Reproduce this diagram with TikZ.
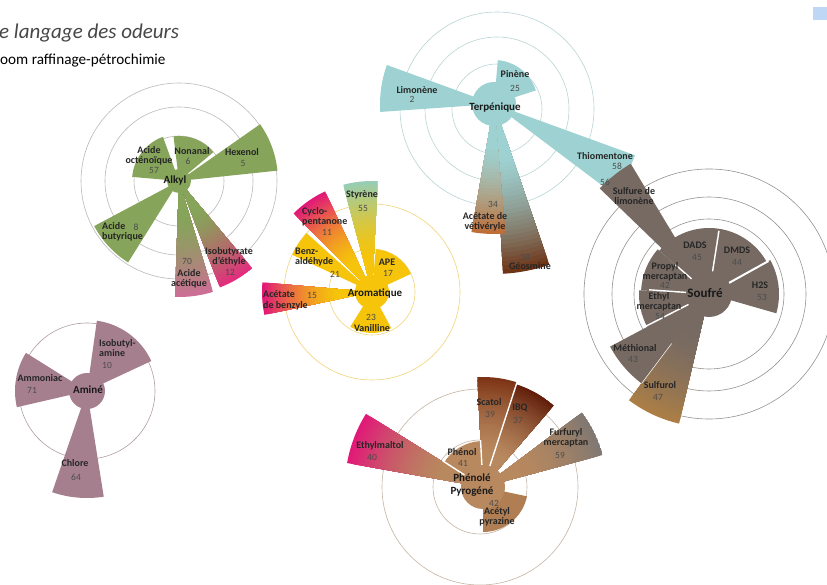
\documentclass[tikz,border=0pt]{standalone}
\usepackage{fontspec}
\setmainfont{Carlito}
\usepackage{xcolor}
\usepackage{tikz}
\definecolor{titlegray}{RGB}{70,70,70}
\definecolor{alkyl}{RGB}{134,164,90}
\definecolor{alkylring}{RGB}{185,185,185}
\definecolor{mauvepink}{RGB}{205,110,150}
\definecolor{isopink}{RGB}{228,45,125}
\definecolor{odmagenta}{RGB}{225,25,120}
\definecolor{aroyellow}{RGB}{246,196,10}
\definecolor{aroring}{RGB}{240,212,120}
\definecolor{styrgreen}{RGB}{150,205,180}
\definecolor{terpteal}{RGB}{158,210,210}
\definecolor{terpring}{RGB}{185,212,212}
\definecolor{vetbrown}{RGB}{190,110,55}
\definecolor{geobrown}{RGB}{110,52,22}
\definecolor{soufgray}{RGB}{118,106,99}
\definecolor{soufring}{RGB}{150,145,142}
\definecolor{sulfgold}{RGB}{172,126,70}
\definecolor{aminmauve}{RGB}{166,127,142}
\definecolor{aminring}{RGB}{175,155,162}
\definecolor{phenbrown}{RGB}{184,136,94}
\definecolor{acetylbrown}{RGB}{176,126,82}
\definecolor{phenring}{RGB}{195,180,165}
\definecolor{scatbrown}{RGB}{125,52,22}
\definecolor{ibqbrown}{RGB}{98,30,10}
\definecolor{furfgray}{RGB}{128,120,114}
\definecolor{blueswatch}{RGB}{190,215,245}
% petals drawn from the centre of the current scope
\newcommand{\petal}[4]{%
  \fill[#4] (0,0) -- (#1:#3) arc[start angle=#1, end angle=#2, radius=#3] -- cycle;}
% radial fade: inner colour #4 towards outer colour #5
\newcommand{\gpetal}[5]{%
  \begin{scope}
    \clip (0,0) -- (#1:#3) arc[start angle=#1, end angle=#2, radius=#3] -- cycle;
    \foreach \k in {40,39,...,1}{
      \pgfmathtruncatemacro{\pct}{100*max(0.0001,(\k/40-0.3)/0.7)^1.5}
      \fill[#5!\pct!#4] (0,0) circle ({#3*\k/40});
    }
  \end{scope}}

\begin{document}
\begin{tikzpicture}[x=1pt, y=1pt,
  ring/.style={draw=#1, line width=0.6pt},
  sep/.style={draw=white, line width=1.4pt},
  lbl/.style={font=\bfseries\fontsize{10}{10.5}\selectfont, text=black!85, align=center, inner sep=0pt},
  val/.style={font=\fontsize{9.5}{10}\selectfont, text=black!70, inner sep=0pt},
  hub/.style={font=\bfseries\fontsize{11}{12.5}\selectfont, text=black!90, align=center, inner sep=0pt}]
\useasboundingbox (0,0) rectangle (827,584);

% --- Title ---
\node[anchor=base west, inner sep=0pt, font=\itshape\fontsize{21}{24}\selectfont, text=titlegray]
  (titre) at (-1,545.5) {e langage des odeurs};
\node[anchor=base west, inner sep=0pt, font=\fontsize{15.2}{17}\selectfont]
  (soustitre) at (0,519.5) {oom raffinage-pétrochimie};
\fill[blueswatch] (813,577) rectangle (827,564);

% --- Alkyl ---
\begin{scope}[shift={(179,403)}]
  \draw[ring=alkylring] (0,0) circle (98);
  \draw[ring=alkylring] (0,0) circle (74);
  \draw[ring=alkylring] (0,0) circle (45);
  \petal{110}{175}{47}{alkyl}
  \petal{40}{97}{45}{alkyl}
  \petal{6}{35}{99}{alkyl}
  \petal{208}{238}{96}{alkyl}
  \gpetal{268}{287}{116}{alkyl}{mauvepink}
  \gpetal{291}{310}{114}{alkyl}{isopink}
  \fill[alkyl] (0,0) circle (12);
  \node[lbl] (acoct) at (-30,25) {Acide\\octénoïque};
  \node[val] (acoct-v) at (-25,11) {57};
  \node[lbl] (nonanal) at (13,30) {Nonanal};
  \node[val] (nonanal-v) at (9,20) {6};
  \node[lbl] (hexenol) at (63,29) {Hexenol};
  \node[val] (hexenol-v) at (64,18) {5};
  \node[hub] (alkylhub) at (-4,0) {Alkyl};
  \node[lbl, align=left, anchor=west] (acbut) at (-77,-51) {Acide\\butyrique};
  \node[val] (acbut-v) at (-43,-46) {8};
  \node[lbl] (acacet) at (10,-98) {Acide\\acétique};
  \node[val] (acacet-v) at (8,-80) {70};
  \node[lbl] (isobut) at (50,-76) {Isobutyrate\\d'éthyle};
  \node[val] (isobut-v) at (51,-91) {12};
\end{scope}

% --- Aromatique ---
\begin{scope}[shift={(372,292)}]
  \draw[ring=aroring] (0,0) circle (88);
  \draw[ring=aroring] (0,0) circle (43);
  \gpetal{87}{105}{111}{aroyellow}{styrgreen}
  \gpetal{115}{135}{111}{aroyellow}{odmagenta}
  \petal{138}{155}{88}{aroyellow}
  \gpetal{175}{192}{110}{aroyellow}{odmagenta}
  \petal{25}{85}{43}{aroyellow}
  \petal{238}{298}{41}{aroyellow}
  \fill[aroyellow] (0,0) circle (17);
  \node[lbl] (styrene) at (-10,97) {Styrène};
  \node[val] (styrene-v) at (-9,84) {55};
  \node[lbl, align=left, anchor=west] (cyclo) at (-70,75) {Cyclo-\\pentanone};
  \node[val] (cyclo-v) at (-45,60) {11};
  \node[lbl, align=left, anchor=west] (benz) at (-77,35) {Benz-\\aldéhyde};
  \node[val] (benz-v) at (-37,18) {21};
  \node[lbl] (ape) at (15,30) {APE};
  \node[val] (ape-v) at (16,19) {17};
  \node[lbl, align=left, anchor=west] (acetbenz) at (-109,-8.5) {Acétate\\de benzyle};
  \node[val] (acetbenz-v) at (-60,-3) {15};
  \node[hub] (arohub) at (3,-1) {Aromatique};
  \node[val] (vanil-v) at (-1,-25) {23};
  \node[lbl] (vanil) at (0,-36) {Vanilline};
\end{scope}

% --- Amine ---
\begin{scope}[shift={(87,193)}]
  \draw[ring=aminring] (0,0) circle (68);
  \petal{25}{82}{71}{aminmauve}
  \petal{148}{193}{72}{aminmauve}
  \petal{251}{279}{107}{aminmauve}
  \fill[aminmauve] (0,0) circle (18);
  \node[lbl, align=left, anchor=west] (isobam) at (12,43) {Isobutyl-\\amine};
  \node[val] (isobam-v) at (20,26) {10};
  \node[lbl] (ammoniac) at (-47,13) {Ammoniac};
  \node[val] (ammoniac-v) at (-55,1) {71};
  \node[hub] (aminhub) at (1,1) {Aminé};
  \node[lbl] (chlore) at (-12,-72) {Chlore};
  \node[val] (chlore-v) at (-11,-86) {64};
\end{scope}

% --- Phenole pyrogene ---
\begin{scope}[shift={(483,97)}]
  \draw[ring=phenring] (-3,0) circle (98);
  \draw[ring=phenring] (-3,0) circle (47);
  \gpetal{148}{170}{138}{phenbrown}{odmagenta}
  \petal{93}{148}{46}{phenbrown}
  \gpetal{72}{93}{110}{phenbrown}{scatbrown}
  \gpetal{49}{72}{108}{phenbrown}{ibqbrown}
  \gpetal{15}{37}{124}{phenbrown}{furfgray}
  \petal{270}{348}{45}{acetylbrown}
  \draw[sep] (147:20) -- (147:48);
  \draw[sep] (93:20) -- (93:47);
  \draw[sep] (72:20) -- (72:111);
  \fill[phenbrown] (0,0) circle (22);
  \node[lbl] (ethylm) at (-103,41) {Ethylmaltol};
  \node[val] (ethylm-v) at (-111,30) {40};
  \node[lbl] (phenol) at (-21,35) {Phénol};
  \node[val] (phenol-v) at (-20,24) {41};
  \node[lbl] (scatol) at (6,85) {Scatol};
  \node[val] (scatol-v) at (7,73) {39};
  \node[lbl] (ibq) at (37,79) {IBQ};
  \node[val] (ibq-v) at (35,67) {37};
  \node[lbl] (furf) at (83,49) {Furfuryl\\mercaptan};
  \node[val] (furf-v) at (77,32) {59};
  \node[hub] (phenhub) at (-11,2) {Phénolé\\Pyrogéné};
  \node[val] (acetyl-v) at (11,-16) {42};
  \node[lbl] (acetyl) at (14,-30) {Acétyl\\pyrazine};
\end{scope}

% --- Terpenique ---
\begin{scope}[shift={(494,480)}]
  \draw[ring=terpring] (3,-5) circle (97);
  \draw[ring=terpring] (3,-5) circle (72);
  \draw[ring=terpring] (3,-5) circle (45);
  \petal{160}{184}{114}{terpteal}
  \petal{18}{85}{44}{terpteal}
  \petal{323}{340}{150}{terpteal}
  \gpetal{273}{289}{170}{terpteal}{geobrown}
  \gpetal{260}{275}{130}{terpteal}{vetbrown}
  \fill[terpteal] (0,0) circle (22);
  \node[lbl] (limonene) at (-77,14) {Limonène};
  \node[val] (limonene-v) at (-82,5) {2};
  \node[lbl] (pinene) at (21,30) {Pinène};
  \node[val] (pinene-v) at (21,16) {25};
  \node[hub] (terphub) at (1,-4) {Terpénique};
  \node[lbl] (thiom) at (111,-52) {Thiomentone};
  \node[val] (thiom-v) at (123,-62) {58};
  \node[lbl] (acetvet) at (-9,-118) {Acétate de\\vétivéryle};
  \node[val] (acetvet-v) at (-1,-100) {34};
  \node[lbl] (geosmine) at (36,-162) {Géosmine};
  \node[val] (geosmine-v) at (31,-153) {38};
\end{scope}

% --- Soufre ---
\begin{scope}[shift={(709,290)}]
  \draw[ring=soufring] (0,0) circle (125);
  \draw[ring=soufring] (0,0) circle (97);
  \draw[ring=soufring] (0,0) circle (75);
  \petal{121}{136}{152}{soufgray}
  \petal{82}{139}{66}{soufgray}
  \petal{29}{82}{66}{soufgray}
  \petal{-16}{29}{70}{soufgray}
  \petal{139}{177}{68}{soufgray}
  \petal{177}{208}{70}{soufgray}
  \petal{208}{233}{112}{soufgray}
  \gpetal{233}{257}{133}{soufgray}{sulfgold}
  \draw[sep] (81:20) -- (81:64);
  \draw[sep, line width=2pt] (29:20) -- (29:68);
  \draw[sep] (139:20) -- (139:45);
  \draw[sep] (176:20) -- (176:60);
  \draw[sep] (207:20) -- (207:72);
  \draw[sep, line width=0.5pt] (233:62) -- (233:112);
  \fill[soufgray] (0,0) circle (23);
  \node[lbl] (sulflim) at (-75,98) {Sulfure de\\limonène};
  \node[val] (sulflim-v) at (-104,112) {56};
  \node[lbl] (dads) at (-14,49) {DADS};
  \node[val] (dads-v) at (-12,37) {45};
  \node[lbl] (dmds) at (28,44) {DMDS};
  \node[val] (dmds-v) at (28,32) {44};
  \node[lbl] (hts) at (51,9) {H2S};
  \node[val] (hts-v) at (53,-3) {53};
  \node[lbl] (propyl) at (-44,22) {Propyl\\mercaptan};
  \node[val] (propyl-v) at (-44,9) {42};
  \node[lbl] (ethyl) at (-50,-8) {Ethyl\\mercaptan};
  \node[val] (ethyl-v) at (-49,-22) {54};
  \node[hub, font=\bfseries\fontsize{13}{14}\selectfont] (soufhub) at (-4,1) {Soufré};
  \node[lbl] (methional) at (-74,-54) {Méthional};
  \node[val] (methional-v) at (-76,-65) {43};
  \node[lbl] (sulfurol) at (-49,-91) {Sulfurol};
  \node[val] (sulfurol-v) at (-51,-103) {47};
\end{scope}
\end{tikzpicture}
\end{document}
